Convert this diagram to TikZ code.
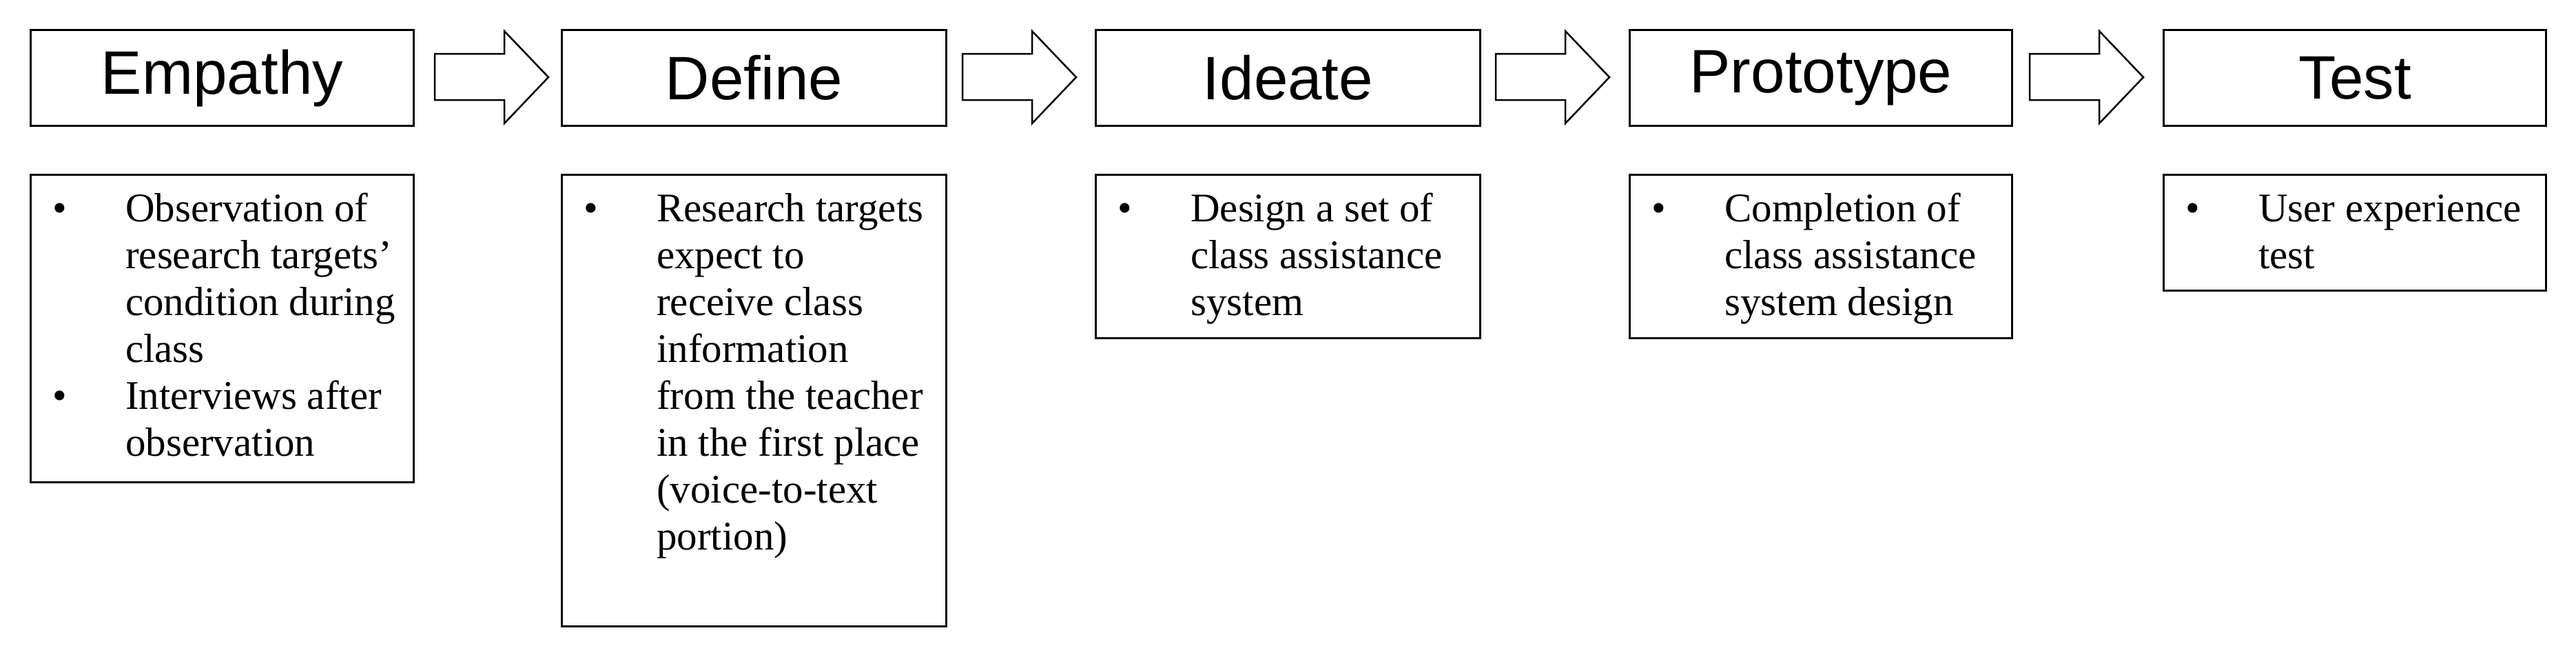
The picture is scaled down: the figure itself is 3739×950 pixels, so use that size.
\documentclass[tikz,border=0pt]{standalone}
\usepackage{fontspec}
\setmainfont{Liberation Serif}
\newfontfamily\titlefont{Liberation Sans}
\begin{document}
\begin{tikzpicture}[x=1pt,y=-1pt,
  box/.style={draw,line width=3pt,inner sep=0pt,anchor=north west},
  title/.style={font=\titlefont\fontsize{89}{100}\selectfont},
  body/.style={font=\fontsize{59}{68}\selectfont,align=left,anchor=north west,inner sep=0pt},
  bul/.style={font=\fontsize{59}{68}\selectfont,anchor=base west,inner sep=0pt},
  arr/.style={draw,line width=2.5pt,fill=white}]
\useasboundingbox (0,0) rectangle (3739,950);
% title boxes
\foreach \n/\x/\w/\t in {e/43/556/Empathy,d/814/558/Define,i/1589/558/Ideate,p/2364/555/Prototype,t/3139/555/Test}{
  \node[box,minimum width=\w pt,minimum height=139pt] (\n) at (\x,42) {};
  \node[title] (\n t) at (\n.center) {\t};
}
% arrows
\foreach \a/\x in {a1/631,a2/1397,a3/2171,a4/2946}{
  \draw[arr] (\x,78) -- (\x+101,78) -- (\x+101,45) -- (\x+165,112) -- (\x+101,179) -- (\x+101,145) -- (\x,145) -- cycle;
}
% body boxes
\node[box,minimum width=556pt,minimum height=446pt] (eb) at (43,252) {};
\node[box,minimum width=558pt,minimum height=655pt] (db) at (814,252) {};
\node[box,minimum width=558pt,minimum height=237pt] (ib) at (1589,252) {};
\node[box,minimum width=555pt,minimum height=237pt] (pb) at (2364,252) {};
\node[box,minimum width=555pt,minimum height=168pt] (tb) at (3139,252) {};
% bullets and texts
\node[bul] (eb1) at (76,321) {•};
\node[bul] (eb2) at (76,593) {•};
\node[body] (et) at (182,273.4) {\strut Observation of\\research targets’\\condition during\\class\\Interviews after\\observation};
\node[bul] (db1) at (847,321) {•};
\node[body] (dt) at (953,273.4) {\strut Research targets\\expect to\\receive class\\information\\from the teacher\\in the first place\\(voice-to-text\\portion)};
\node[bul] (ib1) at (1622,321) {•};
\node[body] (it) at (1728,273.4) {\strut Design a set of\\class assistance\\system};
\node[bul] (pb1) at (2397,321) {•};
\node[body] (pt) at (2503,273.4) {\strut Completion of\\class assistance\\system design};
\node[bul] (tb1) at (3172,321) {•};
\node[body] (tt) at (3278,273.4) {\strut User experience\\test};
\end{tikzpicture}
\end{document}
